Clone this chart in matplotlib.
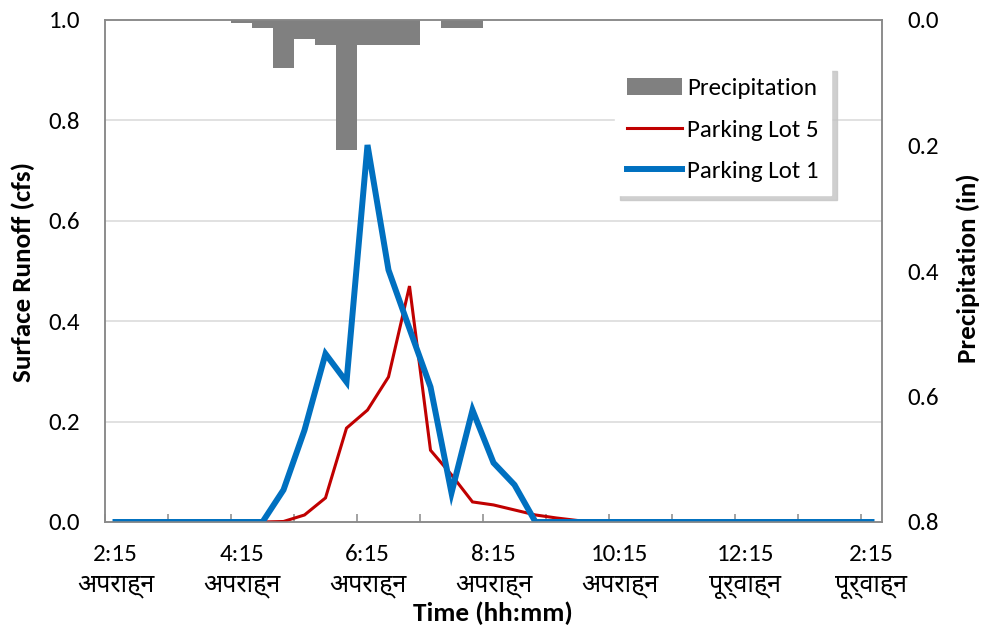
import numpy as np
import matplotlib
matplotlib.use("Agg")
import matplotlib.pyplot as plt
from matplotlib.lines import Line2D
from matplotlib.patches import Patch

plt.rcParams['font.family'] = ['Carlito', 'Lato', 'Noto Sans Devanagari', 'Yantramanav', 'DejaVu Sans']

# 20-minute steps from 2:15 PM to 2:15 AM (37 readings)
tick_labels = ['2:15\nअपराह्न', '4:15\nअपराह्न', '6:15\nअपराह्न', '8:15\nअपराह्न',
               '10:15\nअपराह्न', '12:15\nपूर्वाह्न', '2:15\nपूर्वाह्न']

precip_in = [0, 0, 0, 0, 0, 0, 0.004, 0.013, 0.076, 0.031, 0.040, 0.207, 0.040, 0.040,
             0.040, 0, 0.013, 0.013, 0, 0, 0, 0, 0, 0, 0, 0, 0, 0, 0, 0,
             0, 0, 0, 0, 0, 0, 0]

lot5_cfs = [0, 0, 0, 0, 0, 0, 0, 0, 0.001, 0.014, 0.048, 0.187, 0.223, 0.289, 0.470, 0.143,
            0.094, 0.040, 0.034, 0.024, 0.014, 0.008, 0.003, 0, 0, 0, 0, 0, 0, 0,
            0, 0, 0, 0, 0, 0, 0]

lot1_cfs = [0, 0, 0, 0, 0, 0, 0, 0, 0.064, 0.183, 0.335, 0.279, 0.751, 0.502, 0.385, 0.269,
            0.058, 0.223, 0.118, 0.074, 0, 0, 0, 0, 0, 0, 0, 0, 0, 0,
            0, 0, 0, 0, 0, 0, 0]

x = np.arange(len(lot1_cfs))
fs = 18
title_fs = 19.5

fig = plt.figure(figsize=(9.81, 6.28), dpi=100)
ax = fig.add_axes([105 / 981, 1 - 522 / 628, 777 / 981, 502 / 628])
ax2 = ax.twinx()

frame_col = '#898989'
grid_col = '#d9d9d9'

# runoff lines on the primary axis
ax.plot(x, lot5_cfs, color='#c00000', lw=2.2, solid_joinstyle='miter', zorder=3)
ax.plot(x, lot1_cfs, color='#0070c0', lw=4.3, solid_joinstyle='miter', zorder=4)
ax.set_ylim(0, 1.0)
ax.set_yticks(np.arange(0, 1.01, 0.2))
ax.set_yticklabels([f'{v:.1f}' for v in np.arange(0, 1.01, 0.2)])
for v in np.arange(0.2, 0.81, 0.2):
    ax.axhline(v, color=grid_col, lw=1.1, zorder=1)
ax.set_xlim(-0.5, len(x) - 0.5)
ax.set_xticks(np.arange(-0.5, len(x), 3))
ax.set_xticklabels([])
ax.set_xticks(np.arange(0, len(x), 6), minor=True)
ax.set_xticklabels(tick_labels, minor=True, linespacing=1.55)
ax.tick_params(axis='x', which='major', direction='in', length=6, color=frame_col, width=1.1)
ax.tick_params(axis='x', which='minor', length=0, pad=16, labelsize=fs)
ax.tick_params(axis='y', length=0, pad=18, labelsize=fs)

# precipitation hangs from the top of the secondary axis
ax2.bar(x, precip_in, width=1.0, color='#808080', zorder=2)
ax2.set_ylim(0.8, 0)
ax2.set_yticks(np.arange(0, 0.81, 0.2))
ax2.set_yticklabels([f'{v:.1f}' for v in np.arange(0, 0.81, 0.2)])
ax2.tick_params(axis='y', length=0, pad=18, labelsize=fs)

for a in (ax, ax2):
    for s in a.spines.values():
        s.set_color(frame_col)
        s.set_linewidth(1.1)

# axis titles
fig.text(23 / 981, 1 - 272 / 628, 'Surface Runoff (cfs)', fontsize=title_fs, fontweight='bold',
         rotation=90, ha='center', va='center')
fig.text(968 / 981, 1 - 268 / 628, 'Precipitation (in)', fontsize=title_fs, fontweight='bold',
         rotation=90, ha='center', va='center')
fig.text(493 / 981, 1 - 613 / 628, 'Time (hh:mm)', fontsize=title_fs, fontweight='bold',
         ha='center', va='center')

handles = [Patch(facecolor='#808080'),
           Line2D([], [], color='#c00000', lw=2.2),
           Line2D([], [], color='#0070c0', lw=4.3)]
leg = ax2.legend(handles, ['Precipitation', 'Parking Lot 5', 'Parking Lot 1'],
                 loc='upper left', bbox_to_anchor=(0.64, 0.935), fontsize=fs,
                 frameon=True, fancybox=False, edgecolor='white', framealpha=1,
                 shadow={'color': '#c4c4c4', 'alpha': 0.8, 'ox': 4, 'oy': -4},
                 handlelength=2.2, handletextpad=0.2, labelspacing=0.8, borderpad=0.5)

fig.savefig('out.png', dpi=100)
